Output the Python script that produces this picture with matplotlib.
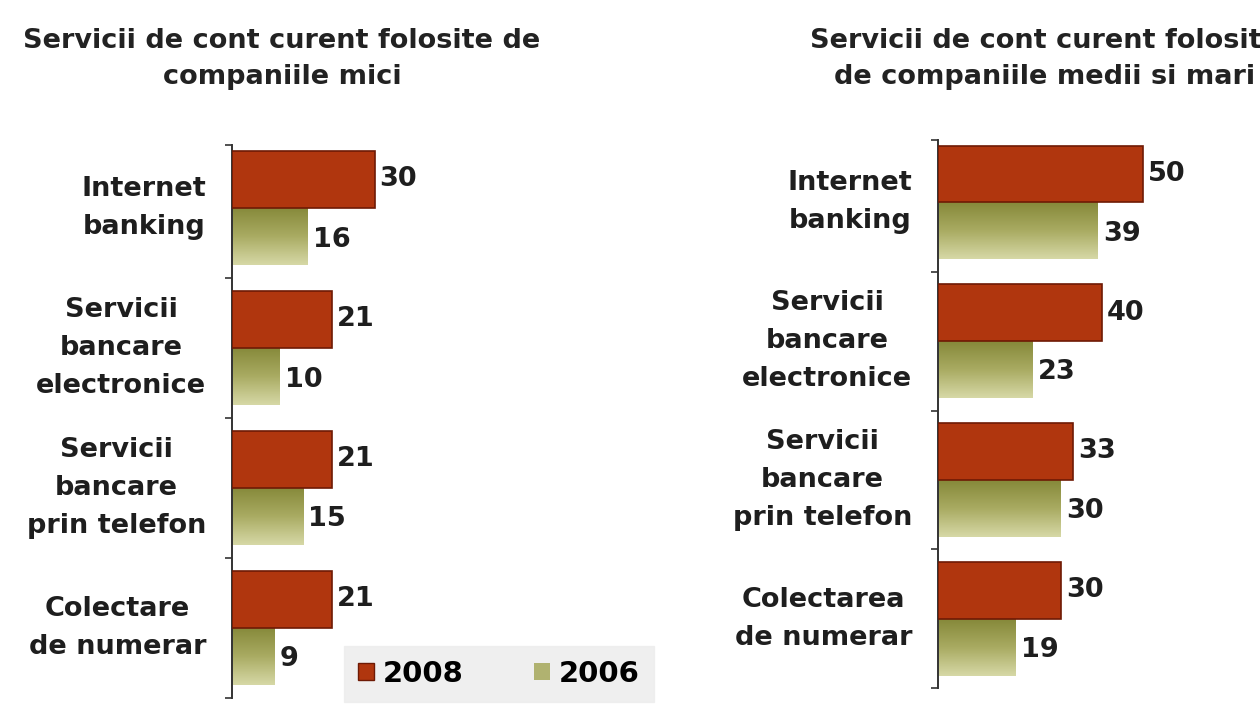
import numpy as np
import matplotlib
matplotlib.use("Agg")
import matplotlib.pyplot as plt
from matplotlib.colors import LinearSegmentedColormap
from matplotlib.patches import Patch

# ---- data ----
left_title = "Servicii de cont curent folosite de\ncompaniile mici"
right_title = "Servicii de cont curent folosite\nde companiile medii si mari"
left_cats = ["Internet\nbanking", "Servicii\nbancare\nelectronice",
             "Servicii\nbancare\nprin telefon", "Colectare\nde numerar"]
right_cats = ["Internet\nbanking", "Servicii\nbancare\nelectronice",
              "Servicii\nbancare\nprin telefon", "Colectarea\nde numerar"]
left_2008 = [30, 21, 21, 21]
left_2006 = [16, 10, 15, 9]
right_2008 = [50, 40, 33, 30]
right_2006 = [39, 23, 30, 19]
series_names = ["2008", "2006"]

RED = "#b0360e"
RED_EDGE = "#6e1a05"
grad_cmap = LinearSegmentedColormap.from_list("olive", ["#86893a", "#a9ab62", "#d6d8a6"])

W, H = 1260, 709
fig = plt.figure(figsize=(W / 100, H / 100), dpi=100)
fig.patch.set_facecolor("white")

FS = 19.5
TFS = 19.5
TXT = "#1e1e1e"


def panel(rect, cats, v08, v06, xmax):
    ax = fig.add_axes(rect)
    y = np.arange(len(cats))
    bh = 0.41
    ax.barh(y - bh / 2, v08, height=bh, color=RED, edgecolor=RED_EDGE, linewidth=1.2, zorder=3)
    b2 = ax.barh(y + bh / 2, v06, height=bh, color="none", edgecolor="none", zorder=3)
    grad = np.linspace(0, 1, 100).reshape(-1, 1)
    for p in b2.patches:
        x0, y0, w, h = p.get_x(), p.get_y(), p.get_width(), p.get_height()
        im = ax.imshow(grad, cmap=grad_cmap, aspect="auto",
                       extent=(x0, x0 + w, y0 + h, y0), zorder=2, interpolation="bilinear")
        im.set_clip_path(p)
    ax.set_xlim(0, xmax)
    ax.set_ylim(3.5, -0.45)
    for yi, v in zip(y, v08):
        ax.text(v + xmax * 0.018, yi - bh / 2, str(v), va="center", ha="left",
                fontsize=FS, fontweight="bold", color=TXT, clip_on=False)
    for yi, v in zip(y, v06):
        ax.text(v + xmax * 0.018, yi + bh / 2 + 0.02, str(v), va="center", ha="left",
                fontsize=FS, fontweight="bold", color=TXT, clip_on=False)
    ax.set_yticks([-0.45, 0.5, 1.5, 2.5, 3.5])
    ax.set_yticklabels([])
    ax.tick_params(axis="y", length=5, width=1.2, color="#333333", direction="out")
    for yi, c in zip(y, cats):
        ax.text(-0.09, yi, c, transform=ax.get_yaxis_transform(), ha="right", va="center",
                multialignment="center", fontsize=FS, fontweight="bold", color=TXT,
                linespacing=1.6)
    ax.set_xticks([])
    for s in ["top", "right", "bottom"]:
        ax.spines[s].set_visible(False)
    ax.spines["left"].set_color("#333333")
    ax.spines["left"].set_linewidth(1.4)
    ax.set_facecolor("none")
    return ax


# left panel: axis x 232, 4.75 px/unit; y from 145 to 698
lx, lw = 232, 60 * 4.75
ax1 = panel([lx / W, 1 - 698 / H, lw / W, (698 - 145) / H], left_cats, left_2008, left_2006, 60)
# right panel: axis x 938, 4.1 px/unit; y from 140 to 688
rx, rw = 938, 70 * 4.1
ax2 = panel([rx / W, 1 - 688 / H, rw / W, (688 - 140) / H], right_cats, right_2008, right_2006, 70)

fig.text(282 / W, 1 - 59 / H, left_title, ha="center", va="center", fontsize=TFS,
         fontweight="bold", color="#222222", linespacing=1.55)
fig.text(1045 / W, 1 - 59 / H, right_title, ha="center", va="center", fontsize=TFS,
         fontweight="bold", color="#222222", linespacing=1.55)

handles = [Patch(facecolor=RED, edgecolor=RED_EDGE), Patch(facecolor="#b0b270", edgecolor="none")]
leg = fig.legend(handles, series_names, loc="center", bbox_to_anchor=(499 / W, 1 - 674 / H),
                 ncol=2, frameon=True, handlelength=0.55, handleheight=0.55,
                 handletextpad=0.3, columnspacing=2.4, borderpad=0.4,
                 prop={"weight": "bold", "size": 21})
leg.get_frame().set_facecolor("#ececec")
leg.get_frame().set_edgecolor("#ececec")
leg.get_frame().set_boxstyle("square", pad=0.08)

fig.savefig("out.png", dpi=100, facecolor="white")
